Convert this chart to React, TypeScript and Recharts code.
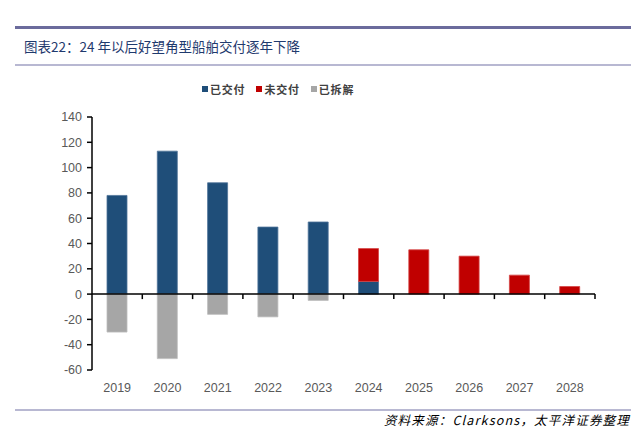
import { BarChart, Bar, XAxis, YAxis, ReferenceLine } from "recharts";

const years = ["2019", "2020", "2021", "2022", "2023", "2024", "2025", "2026", "2027", "2028"];
const delivered = [78, 113, 88, 53, 57, 10, 0, 0, 0, 0];
const undelivered = [0, 0, 0, 0, 0, 26, 35, 30, 15, 6];
const demolished = [-30, -51, -16, -18, -5, 0, 0, 0, 0, 0];
const yTicks = [-60, -40, -20, 0, 20, 40, 60, 80, 100, 120, 140];

const series = [
  { key: "delivered", name: "已交付", color: "#1F4E79", edge: "#4F7399" },
  { key: "undelivered", name: "未交付", color: "#C00000", edge: "#D44545" },
  { key: "demolished", name: "已拆解", color: "#A6A6A6", edge: "#BDBDBD" },
];

const data = years.map((year, i) => ({
  year,
  delivered: delivered[i],
  undelivered: undelivered[i],
  demolished: demolished[i],
}));

const cjk = '"Noto Sans CJK SC", "Noto Sans", sans-serif';

// zero line with small ticks between the categories
const ZeroAxis = (props: any) => {
  const { x1, y1, x2 } = props;
  const n = years.length;
  const step = (x2 - x1) / n;
  return (
    <g>
      <line x1={x1} y1={y1} x2={x2} y2={y1} stroke="#000" strokeWidth={1.5} />
      {years.map((_, i) => (
        <line
          key={i}
          x1={x1 + step * (i + 1)}
          x2={x1 + step * (i + 1)}
          y1={y1}
          y2={y1 + 5}
          stroke="#000"
          strokeWidth={1.5}
        />
      ))}
    </g>
  );
};

export default function App() {
  return (
    <div style={{ position: "absolute", left: 0, top: 0, width: 631, height: 442, background: "#fff" }}>
      <div style={{ position: "absolute", left: 15, right: 0, top: 26, height: 3, background: "#6B6B9C" }} />
      <div
        style={{
          position: "absolute",
          left: 24,
          top: 36,
          fontFamily: cjk,
          fontSize: 13.5,
          color: "#1F3A6E",
          lineHeight: "20px",
        }}
      >
        图表22：24 年以后好望角型船舶交付逐年下降
      </div>
      <div style={{ position: "absolute", left: 15, right: 0, top: 64, height: 1.5, background: "#B8B8D2" }} />

      <div
        style={{
          position: "absolute",
          left: 202,
          top: 81,
          display: "flex",
          alignItems: "center",
          fontFamily: cjk,
          fontSize: 11,
          fontWeight: 700,
          letterSpacing: 0.8,
          color: "#404040",
          lineHeight: "16px",
        }}
      >
        {series.map((s) => (
          <div key={s.key} style={{ display: "flex", alignItems: "center", marginRight: 11 }}>
            <span style={{ width: 6, height: 6, background: s.color, marginRight: 2 }} />
            <span>{s.name}</span>
          </div>
        ))}
      </div>

      <div style={{ position: "absolute", left: 0, top: 100 }}>
        <BarChart
          width={631}
          height={310}
          data={data}
          stackOffset="sign"
          barSize={20}
          margin={{ top: 17, right: 36, bottom: 0, left: 0 }}
        >
          <XAxis
            dataKey="year"
            axisLine={false}
            tickLine={false}
            tickSize={0}
            tickMargin={13}
            height={40}
            interval={0}
            tick={{ fill: "#595959", fontSize: 12.5, fontFamily: '"Liberation Sans", Arial, sans-serif' }}
          />
          <YAxis
            domain={[-60, 140]}
            ticks={yTicks}
            width={92}
            interval={0}
            axisLine={{ stroke: "#000", strokeWidth: 1.5 }}
            tickLine={{ stroke: "#000", strokeWidth: 1.5 }}
            tickSize={5}
            tickMargin={5}
            tick={{ fill: "#595959", fontSize: 12.5, fontFamily: '"Liberation Sans", Arial, sans-serif' }}
          />
          {series.map((s) => (
            <Bar
              key={s.key}
              dataKey={s.key}
              name={s.name}
              stackId="a"
              fill={s.color}
              stroke={s.edge}
              strokeWidth={0.8}
              isAnimationActive={false}
            />
          ))}
          <ReferenceLine y={0} shape={ZeroAxis} />
        </BarChart>
      </div>

      <div style={{ position: "absolute", left: 15, right: 0, top: 409, height: 1.5, background: "#B8B8D2" }} />
      <div
        style={{
          position: "absolute",
          right: 1,
          top: 411,
          fontFamily: cjk,
          fontStyle: "italic",
          fontSize: 12.5,
          letterSpacing: 1.2,
          color: "#000",
          lineHeight: "18px",
        }}
      >
        资料来源：Clarksons，太平洋证券整理
      </div>
    </div>
  );
}
